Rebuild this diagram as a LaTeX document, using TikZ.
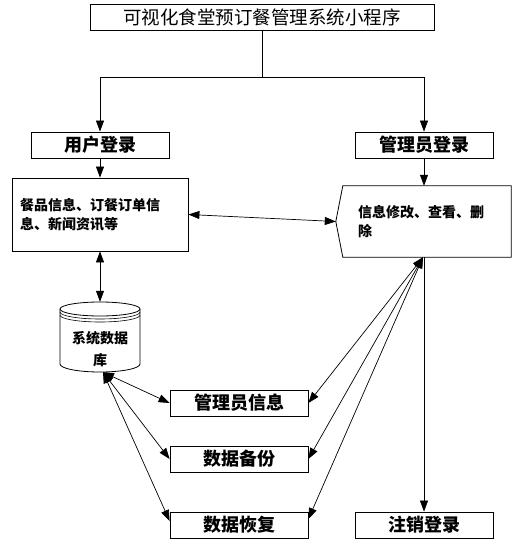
\documentclass[tikz,border=0pt]{standalone}
\usepackage{fontspec}
\newfontfamily\cjk{Noto Sans CJK SC}
\usetikzlibrary{arrows.meta}
\begin{document}
\begin{tikzpicture}[x=1pt,y=-1pt,
  box/.style={draw, line width=0.8pt, inner sep=0pt, minimum width=138pt, minimum height=26pt,
    font=\cjk\bfseries\fontsize{18}{20}\selectfont},
  tip/.tip={Triangle[length=11pt,width=8pt]},
  arr/.style={-tip, line width=0.7pt},
  darr/.style={tip-tip, line width=0.7pt},
  small/.style={font=\cjk\bfseries\fontsize{14}{19}\selectfont}
]
\useasboundingbox (0,0) rectangle (523,545);
% nodes
\node[draw, line width=0.8pt, minimum width=344pt, minimum height=26pt, inner sep=0pt,
  font=\cjk\fontsize{18.5}{20}\selectfont] (title) at (262,17) {可视化食堂预订餐管理系统小程序};
\node[box] (user) at (100,145) {用户登录};
\node[box] (admin) at (424,145) {管理员登录};
\node[draw, line width=0.8pt, small, minimum width=176pt, minimum height=73pt, inner xsep=8pt, inner ysep=0pt,
  text width=160pt, align=left] (info) at (100,214.5) {餐品信息、订餐订单信\\息、新闻资讯等};
\node[small, minimum width=168pt, minimum height=71pt, inner xsep=15pt, inner ysep=0pt,
  text width=138pt, align=left] (op) at (427,221.5) {信息修改、查看、删\\除};
\draw[line width=0.8pt] (op.north west) -- (op.north east) -- (op.south east) -- (op.south west)
  -- ([xshift=-7pt]op.west) -- cycle;
\coordinate (optip) at ([xshift=-7pt]op.west);
% database cylinder
\node[minimum width=80pt, minimum height=70pt, inner sep=0pt] (db) at (100,337) {};
\draw[line width=0.8pt] (60,309) -- (60,364) arc[start angle=180,end angle=360,x radius=40pt,y radius=8pt] -- (140,309);
\draw[line width=0.8pt] (100,309) ellipse[x radius=40pt, y radius=7pt];
\draw[line width=0.6pt] (60,312) arc[start angle=180,end angle=360,x radius=40pt,y radius=7pt];
\draw[line width=0.6pt] (60,315) arc[start angle=180,end angle=360,x radius=40pt,y radius=7pt];
\node[small, align=center, font=\cjk\bfseries\fontsize{14}{22}\selectfont] (dbt) at (100,349) {系统数据\\库};
% lower boxes
\node[box] (ainfo) at (239,403) {管理员信息};
\node[box] (backup) at (239,459) {数据备份};
\node[box] (restore) at (239,525) {数据恢复};
\node[box] (logout) at (424,525) {注销登录};
% connectors
\coordinate (split) at (262,77);
\draw[line width=0.8pt] (title.south) -- (split);
\draw[arr] (split) -| (user.north);
\draw[arr] (split) -| (admin.north);
\draw[arr] (user.south) -- (info.north);
\draw[arr] (admin.south) -- (admin.south |- op.north);
\draw[darr] (info.east) -- (optip);
\draw[darr] (info.south) -- (db.north);
\coordinate (dbb) at ([xshift=3pt]db.south);
\draw[darr] (dbb) -- (ainfo.west);
\draw[darr] (dbb) -- (backup.west);
\draw[darr] (dbb) -- ([yshift=4pt]restore.west);
\coordinate (opb) at ([xshift=-4pt]op.south);
\draw[darr] (opb) -- (ainfo.east);
\draw[darr] (opb) -- (backup.east);
\draw[darr] (opb) -- ([yshift=6pt]restore.east);
\draw[arr] (admin.south |- op.south) -- (logout.north);
\end{tikzpicture}
\end{document}
